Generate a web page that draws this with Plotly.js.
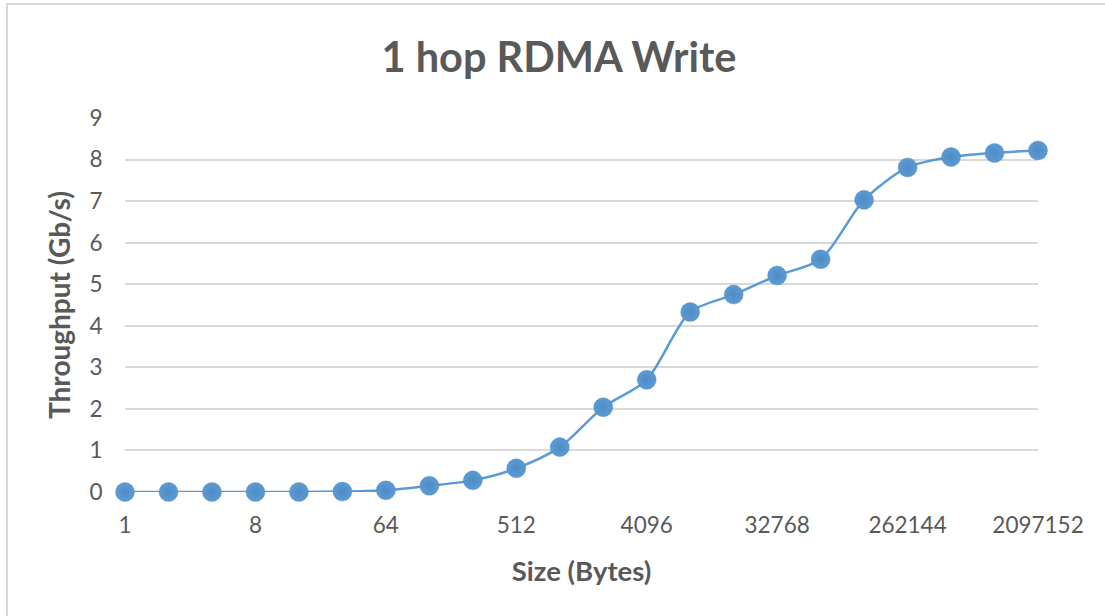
<!DOCTYPE html>
<html>
<head>
<meta charset="utf-8">
<script src="https://cdn.plot.ly/plotly-3.0.1.min.js"></script>
<style>
  html, body { margin: 0; padding: 0; background: #ffffff; overflow: hidden; }
  #chart { width: 1105px; height: 616px; position: absolute; left: 0; top: 0; }
  #frame { position: absolute; left: 6px; top: 3px; width: 1200px; height: 800px;
           border-left: 2px solid #d9d9d9; border-top: 2px solid #d9d9d9; pointer-events: none; }
</style>
</head>
<body>
<div id="chart"></div>
<div id="frame"></div>
<script>
// Message sizes (bytes)
const sizes = ['1','2','4','8','16','32','64','128','256','512','1024','2048','4096','8192',
               '16384','32768','65536','131072','262144','524288','1048576','2097152'];
// Throughput (Gb/s)
const throughput = [0, 0, 0, 0, 0, 0.01, 0.04, 0.15, 0.28, 0.57, 1.08, 2.04, 2.70, 4.33,
                    4.75, 5.21, 5.60, 7.03, 7.81, 8.06, 8.16, 8.22];
// Labelled ticks on the x axis
const xTickLabels = ['1','8','64','512','4096','32768','262144','2097152'];
const yTickValues = [0,1,2,3,4,5,6,7,8,9];

const FONT = 'Lato, "Open Sans", sans-serif';
const TXT = '#595959';

const trace = {
  type: 'scatter',
  mode: 'lines+markers',
  x: sizes,
  y: throughput,
  line: { color: '#5b9bd5', width: 2.5, shape: 'spline', smoothing: 0.8 },
  marker: { color: '#5b9bd5', size: 19,
            gradient: { type: 'radial', color: '#4f8bc4' },
            line: { color: 'rgba(70,120,170,0.35)', width: 1 } },
  cliponaxis: false,
  hoverinfo: 'x+y'
};

const layout = {
  width: 1105, height: 616,
  margin: { l: 125, r: 67, t: 118, b: 124 },
  paper_bgcolor: 'rgba(0,0,0,0)',
  plot_bgcolor: '#ffffff',
  showlegend: false,
  title: {
    text: '<b>1 hop RDMA Write</b>',
    font: { family: FONT, size: 41.5, color: TXT },
    xref: 'container', x: 559/1105, xanchor: 'center',
    yref: 'container', y: 1 - 57/616, yanchor: 'middle'
  },
  xaxis: {
    type: 'category',
    categoryorder: 'array',
    categoryarray: sizes,
    range: [0, sizes.length - 1],
    tickmode: 'array',
    tickvals: xTickLabels,
    ticktext: xTickLabels,
    ticks: 'outside', ticklen: 13, tickcolor: 'rgba(0,0,0,0)',
    tickfont: { family: FONT, size: 22.5, color: TXT },
    showgrid: false,
    showline: false,
    zeroline: false,
    fixedrange: true,
    title: { text: '<b>Size (Bytes)</b>', font: { family: FONT, size: 27.5, color: TXT }, standoff: 24 }
  },
  yaxis: {
    range: [0, 9],
    tickmode: 'array',
    tickvals: yTickValues,
    ticks: 'outside', ticklen: 17, tickcolor: 'rgba(0,0,0,0)',
    tickfont: { family: FONT, size: 22.5, color: TXT },
    showgrid: true, gridcolor: '#d9d9d9', gridwidth: 2,
    zeroline: false, showline: false,
    fixedrange: true,
    title: { text: '<b>Throughput (Gb/s)</b>', font: { family: FONT, size: 28, color: TXT }, standoff: 10 }
  }
};

Plotly.newPlot('chart', [trace], layout, { displayModeBar: false, staticPlot: true });
</script>
</body>
</html>
